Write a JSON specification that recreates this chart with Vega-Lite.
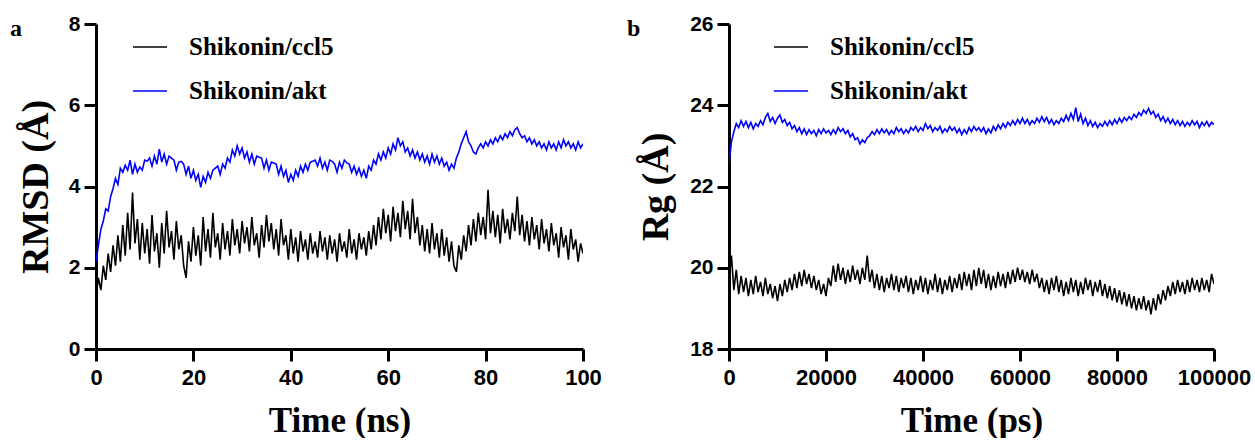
{
"$schema": "https://vega.github.io/schema/vega-lite/v6.json",
"background": "white",
"padding": {"left": 10, "top": 13, "right": 0, "bottom": 0},
"spacing": 146,
"bounds": "flush",
"resolve": {"scale": {"color": "independent"}, "legend": {"color": "independent"}},
"config": {
  "view": {"stroke": null},
  "axis": {"domainColor": "black", "domainWidth": 3, "tickColor": "black", "tickWidth": 3, "tickSize": 12, "grid": false,
    "labelFont": "Liberation Sans", "labelFontWeight": "bold", "labelColor": "black", "labelFlush": false, "labelOverlap": false,
    "titleFont": "Liberation Serif", "titleFontWeight": "bold", "titleColor": "black"},
  "axisX": {"labelFontSize": 22, "labelPadding": 6, "titleFontSize": 35, "titlePadding": 15},
  "axisY": {"labelFontSize": 21, "labelPadding": 4, "titleFontSize": 38, "titlePadding": 13},
  "legend": {"orient": "none", "legendX": 36, "legendY": 5, "title": null, "symbolType": "stroke", "symbolSize": 1156, "symbolStrokeWidth": 1.5,
    "labelFont": "Liberation Serif", "labelFontSize": 25, "labelFontWeight": "bold", "labelColor": "black", "labelOffset": 21, "rowPadding": 13, "labelLimit": 400}
},
"datasets": {
"rmsd": [
{"t":0,"ccl5":1.30,"akt":2.15},{"t":0.5,"ccl5":1.75,"akt":2.55},{"t":1,"ccl5":1.45,"akt":2.95},{"t":1.5,"ccl5":2.05,"akt":3.15},{"t":2,"ccl5":1.70,"akt":3.45},{"t":2.5,"ccl5":2.35,"akt":3.40},{"t":3,"ccl5":1.90,"akt":3.75},{"t":3.5,"ccl5":2.55,"akt":3.95},{"t":4,"ccl5":2.05,"akt":4.20},{"t":4.5,"ccl5":2.80,"akt":4.05},
{"t":5,"ccl5":2.15,"akt":4.45},{"t":5.5,"ccl5":3.05,"akt":4.35},{"t":6,"ccl5":2.30,"akt":4.52},{"t":6.5,"ccl5":3.35,"akt":4.40},{"t":7,"ccl5":2.45,"akt":4.65},{"t":7.5,"ccl5":3.85,"akt":4.30},{"t":8,"ccl5":2.60,"akt":4.55},{"t":8.5,"ccl5":3.20,"akt":4.35},{"t":9,"ccl5":2.20,"akt":4.48},{"t":9.5,"ccl5":3.10,"akt":4.40},
{"t":10,"ccl5":2.35,"akt":4.65},{"t":10.5,"ccl5":2.95,"akt":4.62},{"t":11,"ccl5":2.10,"akt":4.70},{"t":11.5,"ccl5":3.30,"akt":4.50},{"t":12,"ccl5":2.40,"akt":4.75},{"t":12.5,"ccl5":2.85,"akt":4.55},{"t":13,"ccl5":2.00,"akt":4.92},{"t":13.5,"ccl5":3.10,"akt":4.60},{"t":14,"ccl5":2.35,"akt":4.80},{"t":14.5,"ccl5":3.40,"akt":4.55},
{"t":15,"ccl5":2.50,"akt":4.75},{"t":15.5,"ccl5":2.90,"akt":4.70},{"t":16,"ccl5":2.20,"akt":4.65},{"t":16.5,"ccl5":3.15,"akt":4.40},{"t":17,"ccl5":2.45,"akt":4.60},{"t":17.5,"ccl5":2.80,"akt":4.62},{"t":18,"ccl5":2.05,"akt":4.55},{"t":18.5,"ccl5":1.75,"akt":4.30},{"t":19,"ccl5":2.65,"akt":4.50},{"t":19.5,"ccl5":2.15,"akt":4.20},
{"t":20,"ccl5":3.00,"akt":4.40},{"t":20.5,"ccl5":2.30,"akt":4.15},{"t":21,"ccl5":2.80,"akt":4.30},{"t":21.5,"ccl5":2.05,"akt":3.98},{"t":22,"ccl5":3.25,"akt":4.25},{"t":22.5,"ccl5":2.40,"akt":4.10},{"t":23,"ccl5":2.95,"akt":4.35},{"t":23.5,"ccl5":2.25,"akt":4.20},{"t":24,"ccl5":3.35,"akt":4.40},{"t":24.5,"ccl5":2.50,"akt":4.45},
{"t":25,"ccl5":2.85,"akt":4.50},{"t":25.5,"ccl5":2.20,"akt":4.30},{"t":26,"ccl5":3.10,"akt":4.55},{"t":26.5,"ccl5":2.45,"akt":4.45},{"t":27,"ccl5":2.90,"akt":4.70},{"t":27.5,"ccl5":2.30,"akt":4.60},{"t":28,"ccl5":3.20,"akt":4.90},{"t":28.5,"ccl5":2.55,"akt":4.75},{"t":29,"ccl5":2.95,"akt":5.00},{"t":29.5,"ccl5":2.35,"akt":4.80},
{"t":30,"ccl5":3.15,"akt":4.95},{"t":30.5,"ccl5":2.60,"akt":4.70},{"t":31,"ccl5":3.00,"akt":4.85},{"t":31.5,"ccl5":2.40,"akt":4.60},{"t":32,"ccl5":3.25,"akt":4.80},{"t":32.5,"ccl5":2.55,"akt":4.55},{"t":33,"ccl5":2.85,"akt":4.75},{"t":33.5,"ccl5":2.25,"akt":4.72},{"t":34,"ccl5":3.05,"akt":4.70},{"t":34.5,"ccl5":2.50,"akt":4.45},
{"t":35,"ccl5":3.30,"akt":4.65},{"t":35.5,"ccl5":2.65,"akt":4.40},{"t":36,"ccl5":3.10,"akt":4.60},{"t":36.5,"ccl5":2.45,"akt":4.58},{"t":37,"ccl5":2.95,"akt":4.55},{"t":37.5,"ccl5":2.30,"akt":4.30},{"t":38,"ccl5":3.20,"akt":4.50},{"t":38.5,"ccl5":2.55,"akt":4.25},{"t":39,"ccl5":2.80,"akt":4.40},{"t":39.5,"ccl5":2.20,"akt":4.10},
{"t":40,"ccl5":2.95,"akt":4.30},{"t":40.5,"ccl5":2.35,"akt":4.15},{"t":41,"ccl5":2.75,"akt":4.40},{"t":41.5,"ccl5":2.15,"akt":4.25},{"t":42,"ccl5":2.90,"akt":4.50},{"t":42.5,"ccl5":2.40,"akt":4.35},{"t":43,"ccl5":2.70,"akt":4.55},{"t":43.5,"ccl5":2.20,"akt":4.40},{"t":44,"ccl5":2.85,"akt":4.60},{"t":44.5,"ccl5":2.35,"akt":4.62},
{"t":45,"ccl5":2.65,"akt":4.65},{"t":45.5,"ccl5":2.25,"akt":4.50},{"t":46,"ccl5":2.90,"akt":4.70},{"t":46.5,"ccl5":2.40,"akt":4.45},{"t":47,"ccl5":2.75,"akt":4.60},{"t":47.5,"ccl5":2.20,"akt":4.40},{"t":48,"ccl5":2.80,"akt":4.65},{"t":48.5,"ccl5":2.35,"akt":4.62},{"t":49,"ccl5":2.70,"akt":4.55},{"t":49.5,"ccl5":2.15,"akt":4.35},
{"t":50,"ccl5":2.85,"akt":4.60},{"t":50.5,"ccl5":2.40,"akt":4.45},{"t":51,"ccl5":2.65,"akt":4.65},{"t":51.5,"ccl5":2.25,"akt":4.58},{"t":52,"ccl5":2.95,"akt":4.55},{"t":52.5,"ccl5":2.35,"akt":4.35},{"t":53,"ccl5":2.70,"akt":4.50},{"t":53.5,"ccl5":2.20,"akt":4.30},{"t":54,"ccl5":2.85,"akt":4.45},{"t":54.5,"ccl5":2.45,"akt":4.25},
{"t":55,"ccl5":2.75,"akt":4.40},{"t":55.5,"ccl5":2.30,"akt":4.20},{"t":56,"ccl5":2.90,"akt":4.50},{"t":56.5,"ccl5":2.45,"akt":4.40},{"t":57,"ccl5":3.05,"akt":4.65},{"t":57.5,"ccl5":2.55,"akt":4.55},{"t":58,"ccl5":3.25,"akt":4.80},{"t":58.5,"ccl5":2.70,"akt":4.65},{"t":59,"ccl5":3.45,"akt":4.85},{"t":59.5,"ccl5":2.85,"akt":4.70},
{"t":60,"ccl5":3.30,"akt":4.95},{"t":60.5,"ccl5":2.65,"akt":4.80},{"t":61,"ccl5":3.50,"akt":5.05},{"t":61.5,"ccl5":2.90,"akt":4.90},{"t":62,"ccl5":3.35,"akt":5.20},{"t":62.5,"ccl5":2.75,"akt":5.00},{"t":63,"ccl5":3.65,"akt":5.10},{"t":63.5,"ccl5":2.95,"akt":4.85},{"t":64,"ccl5":3.40,"akt":4.95},{"t":64.5,"ccl5":2.70,"akt":4.75},
{"t":65,"ccl5":3.70,"akt":4.90},{"t":65.5,"ccl5":2.85,"akt":4.70},{"t":66,"ccl5":3.25,"akt":4.85},{"t":66.5,"ccl5":2.55,"akt":4.65},{"t":67,"ccl5":3.05,"akt":4.80},{"t":67.5,"ccl5":2.40,"akt":4.60},{"t":68,"ccl5":2.95,"akt":4.75},{"t":68.5,"ccl5":2.35,"akt":4.55},{"t":69,"ccl5":3.10,"akt":4.80},{"t":69.5,"ccl5":2.45,"akt":4.60},
{"t":70,"ccl5":2.85,"akt":4.75},{"t":70.5,"ccl5":2.25,"akt":4.55},{"t":71,"ccl5":2.95,"akt":4.70},{"t":71.5,"ccl5":2.30,"akt":4.50},{"t":72,"ccl5":2.75,"akt":4.60},{"t":72.5,"ccl5":2.15,"akt":4.40},{"t":73,"ccl5":2.65,"akt":4.55},{"t":73.5,"ccl5":2.05,"akt":4.45},{"t":74,"ccl5":1.90,"akt":4.70},{"t":74.5,"ccl5":2.55,"akt":4.85},
{"t":75,"ccl5":2.20,"akt":5.05},{"t":75.5,"ccl5":2.80,"akt":5.20},{"t":76,"ccl5":2.40,"akt":5.35},{"t":76.5,"ccl5":3.05,"akt":5.10},{"t":77,"ccl5":2.55,"akt":5.00},{"t":77.5,"ccl5":3.20,"akt":4.85},{"t":78,"ccl5":2.65,"akt":4.80},{"t":78.5,"ccl5":3.35,"akt":4.95},{"t":79,"ccl5":2.80,"akt":5.05},{"t":79.5,"ccl5":3.25,"akt":4.95},
{"t":80,"ccl5":2.70,"akt":5.10},{"t":80.5,"ccl5":3.92,"akt":5.00},{"t":81,"ccl5":2.85,"akt":5.15},{"t":81.5,"ccl5":3.40,"akt":5.05},{"t":82,"ccl5":2.75,"akt":5.20},{"t":82.5,"ccl5":3.30,"akt":5.10},{"t":83,"ccl5":2.60,"akt":5.25},{"t":83.5,"ccl5":3.45,"akt":5.15},{"t":84,"ccl5":2.85,"akt":5.30},{"t":84.5,"ccl5":3.20,"akt":5.20},
{"t":85,"ccl5":2.70,"akt":5.35},{"t":85.5,"ccl5":3.35,"akt":5.25},{"t":86,"ccl5":2.90,"akt":5.40},{"t":86.5,"ccl5":3.75,"akt":5.45},{"t":87,"ccl5":2.80,"akt":5.30},{"t":87.5,"ccl5":3.30,"akt":5.20},{"t":88,"ccl5":2.65,"akt":5.25},{"t":88.5,"ccl5":3.15,"akt":5.10},{"t":89,"ccl5":2.55,"akt":5.20},{"t":89.5,"ccl5":3.25,"akt":5.05},
{"t":90,"ccl5":2.70,"akt":5.15},{"t":90.5,"ccl5":3.05,"akt":5.00},{"t":91,"ccl5":2.45,"akt":5.10},{"t":91.5,"ccl5":3.20,"akt":4.95},{"t":92,"ccl5":2.60,"akt":5.05},{"t":92.5,"ccl5":2.95,"akt":4.90},{"t":93,"ccl5":2.40,"akt":5.10},{"t":93.5,"ccl5":3.10,"akt":4.95},{"t":94,"ccl5":2.55,"akt":5.05},{"t":94.5,"ccl5":2.85,"akt":4.90},
{"t":95,"ccl5":2.25,"akt":5.10},{"t":95.5,"ccl5":3.00,"akt":4.95},{"t":96,"ccl5":2.50,"akt":5.15},{"t":96.5,"ccl5":2.80,"akt":5.00},{"t":97,"ccl5":2.20,"akt":5.10},{"t":97.5,"ccl5":2.95,"akt":4.95},{"t":98,"ccl5":2.45,"akt":5.05},{"t":98.5,"ccl5":2.70,"akt":4.90},{"t":99,"ccl5":2.15,"akt":5.10},{"t":99.5,"ccl5":2.60,"akt":4.95},
{"t":100,"ccl5":2.35,"akt":5.05}
],
"rg": [
{"t":0,"ccl5":19.70,"akt":22.55},{"t":500,"ccl5":20.30,"akt":23.10},{"t":1000,"ccl5":19.45,"akt":23.35},{"t":1500,"ccl5":19.95,"akt":23.55},{"t":2000,"ccl5":19.35,"akt":23.45},{"t":2500,"ccl5":19.80,"akt":23.62},{"t":3000,"ccl5":19.40,"akt":23.48},{"t":3500,"ccl5":19.75,"akt":23.60},{"t":4000,"ccl5":19.30,"akt":23.45},{"t":4500,"ccl5":19.70,"akt":23.58},
{"t":5000,"ccl5":19.35,"akt":23.42},{"t":5500,"ccl5":19.80,"akt":23.55},{"t":6000,"ccl5":19.40,"akt":23.48},{"t":6500,"ccl5":19.65,"akt":23.62},{"t":7000,"ccl5":19.30,"akt":23.52},{"t":7500,"ccl5":19.75,"akt":23.70},{"t":8000,"ccl5":19.35,"akt":23.80},{"t":8500,"ccl5":19.60,"akt":23.60},{"t":9000,"ccl5":19.25,"akt":23.70},{"t":9500,"ccl5":19.55,"akt":23.55},
{"t":10000,"ccl5":19.18,"akt":23.68},{"t":10500,"ccl5":19.60,"akt":23.76},{"t":11000,"ccl5":19.30,"akt":23.58},{"t":11500,"ccl5":19.70,"akt":23.65},{"t":12000,"ccl5":19.40,"akt":23.50},{"t":12500,"ccl5":19.75,"akt":23.58},{"t":13000,"ccl5":19.45,"akt":23.42},{"t":13500,"ccl5":19.85,"akt":23.50},{"t":14000,"ccl5":19.50,"akt":23.35},{"t":14500,"ccl5":19.90,"akt":23.45},
{"t":15000,"ccl5":19.55,"akt":23.30},{"t":15500,"ccl5":19.95,"akt":23.42},{"t":16000,"ccl5":19.60,"akt":23.28},{"t":16500,"ccl5":19.85,"akt":23.40},{"t":17000,"ccl5":19.50,"akt":23.30},{"t":17500,"ccl5":19.80,"akt":23.38},{"t":18000,"ccl5":19.45,"akt":23.25},{"t":18500,"ccl5":19.70,"akt":23.40},{"t":19000,"ccl5":19.35,"akt":23.30},{"t":19500,"ccl5":19.60,"akt":23.42},
{"t":20000,"ccl5":19.30,"akt":23.32},{"t":20500,"ccl5":19.75,"akt":23.38},{"t":21000,"ccl5":19.55,"akt":23.28},{"t":21500,"ccl5":20.05,"akt":23.40},{"t":22000,"ccl5":19.65,"akt":23.30},{"t":22500,"ccl5":20.10,"akt":23.45},{"t":23000,"ccl5":19.70,"akt":23.35},{"t":23500,"ccl5":20.00,"akt":23.42},{"t":24000,"ccl5":19.60,"akt":23.30},{"t":24500,"ccl5":19.95,"akt":23.38},
{"t":25000,"ccl5":19.65,"akt":23.22},{"t":25500,"ccl5":20.05,"akt":23.30},{"t":26000,"ccl5":19.70,"akt":23.15},{"t":26500,"ccl5":19.95,"akt":23.20},{"t":27000,"ccl5":19.60,"akt":23.05},{"t":27500,"ccl5":20.00,"akt":23.15},{"t":28000,"ccl5":19.70,"akt":23.08},{"t":28500,"ccl5":20.30,"akt":23.20},{"t":29000,"ccl5":19.65,"akt":23.25},{"t":29500,"ccl5":19.95,"akt":23.35},
{"t":30000,"ccl5":19.50,"akt":23.28},{"t":30500,"ccl5":19.85,"akt":23.40},{"t":31000,"ccl5":19.45,"akt":23.30},{"t":31500,"ccl5":19.80,"akt":23.42},{"t":32000,"ccl5":19.40,"akt":23.32},{"t":32500,"ccl5":19.75,"akt":23.40},{"t":33000,"ccl5":19.50,"akt":23.28},{"t":33500,"ccl5":19.85,"akt":23.38},{"t":34000,"ccl5":19.45,"akt":23.30},{"t":34500,"ccl5":19.80,"akt":23.45},
{"t":35000,"ccl5":19.40,"akt":23.35},{"t":35500,"ccl5":19.75,"akt":23.42},{"t":36000,"ccl5":19.50,"akt":23.30},{"t":36500,"ccl5":19.80,"akt":23.40},{"t":37000,"ccl5":19.40,"akt":23.32},{"t":37500,"ccl5":19.75,"akt":23.45},{"t":38000,"ccl5":19.35,"akt":23.38},{"t":38500,"ccl5":19.70,"akt":23.48},{"t":39000,"ccl5":19.45,"akt":23.35},{"t":39500,"ccl5":19.80,"akt":23.45},
{"t":40000,"ccl5":19.40,"akt":23.38},{"t":40500,"ccl5":19.75,"akt":23.55},{"t":41000,"ccl5":19.35,"akt":23.42},{"t":41500,"ccl5":19.70,"akt":23.50},{"t":42000,"ccl5":19.45,"akt":23.35},{"t":42500,"ccl5":19.85,"akt":23.45},{"t":43000,"ccl5":19.40,"akt":23.38},{"t":43500,"ccl5":19.75,"akt":23.48},{"t":44000,"ccl5":19.35,"akt":23.32},{"t":44500,"ccl5":19.70,"akt":23.42},
{"t":45000,"ccl5":19.45,"akt":23.35},{"t":45500,"ccl5":19.80,"akt":23.48},{"t":46000,"ccl5":19.40,"akt":23.38},{"t":46500,"ccl5":19.75,"akt":23.45},{"t":47000,"ccl5":19.50,"akt":23.32},{"t":47500,"ccl5":19.85,"akt":23.42},{"t":48000,"ccl5":19.45,"akt":23.28},{"t":48500,"ccl5":19.90,"akt":23.40},{"t":49000,"ccl5":19.55,"akt":23.30},{"t":49500,"ccl5":19.85,"akt":23.45},
{"t":50000,"ccl5":19.45,"akt":23.35},{"t":50500,"ccl5":19.95,"akt":23.48},{"t":51000,"ccl5":19.55,"akt":23.38},{"t":51500,"ccl5":20.00,"akt":23.45},{"t":52000,"ccl5":19.60,"akt":23.35},{"t":52500,"ccl5":19.95,"akt":23.45},{"t":53000,"ccl5":19.50,"akt":23.30},{"t":53500,"ccl5":19.85,"akt":23.42},{"t":54000,"ccl5":19.45,"akt":23.32},{"t":54500,"ccl5":19.80,"akt":23.48},
{"t":55000,"ccl5":19.50,"akt":23.38},{"t":55500,"ccl5":19.90,"akt":23.52},{"t":56000,"ccl5":19.55,"akt":23.42},{"t":56500,"ccl5":19.85,"akt":23.55},{"t":57000,"ccl5":19.50,"akt":23.45},{"t":57500,"ccl5":19.90,"akt":23.58},{"t":58000,"ccl5":19.60,"akt":23.50},{"t":58500,"ccl5":19.95,"akt":23.62},{"t":59000,"ccl5":19.65,"akt":23.52},{"t":59500,"ccl5":20.00,"akt":23.65},
{"t":60000,"ccl5":19.70,"akt":23.55},{"t":60500,"ccl5":19.95,"akt":23.68},{"t":61000,"ccl5":19.65,"akt":23.55},{"t":61500,"ccl5":19.90,"akt":23.65},{"t":62000,"ccl5":19.60,"akt":23.52},{"t":62500,"ccl5":19.95,"akt":23.62},{"t":63000,"ccl5":19.65,"akt":23.55},{"t":63500,"ccl5":19.85,"akt":23.68},{"t":64000,"ccl5":19.50,"akt":23.58},{"t":64500,"ccl5":19.75,"akt":23.72},
{"t":65000,"ccl5":19.40,"akt":23.60},{"t":65500,"ccl5":19.70,"akt":23.70},{"t":66000,"ccl5":19.35,"akt":23.55},{"t":66500,"ccl5":19.75,"akt":23.65},{"t":67000,"ccl5":19.45,"akt":23.52},{"t":67500,"ccl5":19.80,"akt":23.62},{"t":68000,"ccl5":19.40,"akt":23.55},{"t":68500,"ccl5":19.70,"akt":23.68},{"t":69000,"ccl5":19.30,"akt":23.60},{"t":69500,"ccl5":19.65,"akt":23.75},
{"t":70000,"ccl5":19.35,"akt":23.62},{"t":70500,"ccl5":19.75,"akt":23.80},{"t":71000,"ccl5":19.40,"akt":23.65},{"t":71500,"ccl5":19.70,"akt":23.94},{"t":72000,"ccl5":19.30,"akt":23.60},{"t":72500,"ccl5":19.65,"akt":23.78},{"t":73000,"ccl5":19.35,"akt":23.55},{"t":73500,"ccl5":19.75,"akt":23.68},{"t":74000,"ccl5":19.45,"akt":23.50},{"t":74500,"ccl5":19.70,"akt":23.62},
{"t":75000,"ccl5":19.30,"akt":23.48},{"t":75500,"ccl5":19.65,"akt":23.58},{"t":76000,"ccl5":19.40,"akt":23.45},{"t":76500,"ccl5":19.70,"akt":23.55},{"t":77000,"ccl5":19.30,"akt":23.48},{"t":77500,"ccl5":19.60,"akt":23.60},{"t":78000,"ccl5":19.25,"akt":23.50},{"t":78500,"ccl5":19.55,"akt":23.62},{"t":79000,"ccl5":19.20,"akt":23.52},{"t":79500,"ccl5":19.50,"akt":23.65},
{"t":80000,"ccl5":19.15,"akt":23.55},{"t":80500,"ccl5":19.45,"akt":23.68},{"t":81000,"ccl5":19.10,"akt":23.58},{"t":81500,"ccl5":19.40,"akt":23.70},{"t":82000,"ccl5":19.05,"akt":23.62},{"t":82500,"ccl5":19.35,"akt":23.72},{"t":83000,"ccl5":19.00,"akt":23.65},{"t":83500,"ccl5":19.30,"akt":23.78},{"t":84000,"ccl5":18.95,"akt":23.70},{"t":84500,"ccl5":19.25,"akt":23.82},
{"t":85000,"ccl5":18.98,"akt":23.75},{"t":85500,"ccl5":19.30,"akt":23.88},{"t":86000,"ccl5":18.95,"akt":23.80},{"t":86500,"ccl5":19.20,"akt":23.92},{"t":87000,"ccl5":18.85,"akt":23.78},{"t":87500,"ccl5":19.25,"akt":23.85},{"t":88000,"ccl5":18.95,"akt":23.70},{"t":88500,"ccl5":19.35,"akt":23.78},{"t":89000,"ccl5":19.10,"akt":23.62},{"t":89500,"ccl5":19.45,"akt":23.72},
{"t":90000,"ccl5":19.20,"akt":23.58},{"t":90500,"ccl5":19.55,"akt":23.68},{"t":91000,"ccl5":19.30,"akt":23.55},{"t":91500,"ccl5":19.65,"akt":23.65},{"t":92000,"ccl5":19.35,"akt":23.52},{"t":92500,"ccl5":19.70,"akt":23.62},{"t":93000,"ccl5":19.40,"akt":23.50},{"t":93500,"ccl5":19.65,"akt":23.60},{"t":94000,"ccl5":19.35,"akt":23.48},{"t":94500,"ccl5":19.70,"akt":23.58},
{"t":95000,"ccl5":19.40,"akt":23.50},{"t":95500,"ccl5":19.75,"akt":23.62},{"t":96000,"ccl5":19.45,"akt":23.52},{"t":96500,"ccl5":19.70,"akt":23.60},{"t":97000,"ccl5":19.40,"akt":23.45},{"t":97500,"ccl5":19.75,"akt":23.58},{"t":98000,"ccl5":19.45,"akt":23.50},{"t":98500,"ccl5":19.70,"akt":23.60},{"t":99000,"ccl5":19.40,"akt":23.48},{"t":99500,"ccl5":19.85,"akt":23.58},
{"t":100000,"ccl5":19.60,"akt":23.52}
]
},
"hconcat": [
{
  "width": 487, "height": 325,
  "title": {"text": "a", "anchor": "start", "frame": "group", "dx": -86, "offset": -28, "font": "Liberation Serif", "fontSize": 24, "fontWeight": "bold", "color": "black"},
  "data": {"name": "rmsd"},
  "transform": [{"fold": ["ccl5", "akt"], "as": ["series", "value"]}],
  "mark": {"type": "line", "strokeWidth": 1.6, "clip": true},
  "encoding": {
    "x": {"field": "t", "type": "quantitative", "scale": {"domain": [0, 100], "nice": false}, "axis": {"values": [0, 20, 40, 60, 80, 100], "title": "Time (ns)", "domainWidth": 3, "tickWidth": 3, "tickSize": 12}},
    "y": {"field": "value", "type": "quantitative", "scale": {"domain": [0, 8], "nice": false}, "axis": {"values": [0, 2, 4, 6, 8], "title": "RMSD (Å)", "domainWidth": 3, "tickWidth": 3, "tickSize": 12}},
    "color": {"field": "series", "type": "nominal", "sort": ["ccl5", "akt"], "scale": {"domain": ["ccl5", "akt"], "range": ["#000000", "#0000FF"]}, "legend": {"labelExpr": "'Shikonin/' + datum.label"}}
  }
},
{
  "width": 485, "height": 325,
  "title": {"text": "b", "anchor": "start", "frame": "group", "dx": -102, "offset": -28, "font": "Liberation Serif", "fontSize": 24, "fontWeight": "bold", "color": "black"},
  "data": {"name": "rg"},
  "transform": [{"fold": ["ccl5", "akt"], "as": ["series", "value"]}],
  "mark": {"type": "line", "strokeWidth": 1.6, "clip": true},
  "encoding": {
    "x": {"field": "t", "type": "quantitative", "scale": {"domain": [0, 100000], "nice": false}, "axis": {"values": [0, 20000, 40000, 60000, 80000, 100000], "format": "d", "title": "Time (ps)", "domainWidth": 3, "tickWidth": 3, "tickSize": 12}},
    "y": {"field": "value", "type": "quantitative", "scale": {"domain": [18, 26], "nice": false, "zero": false}, "axis": {"values": [18, 20, 22, 24, 26], "title": "Rg (Å)", "titlePadding": 14, "domainWidth": 3, "tickWidth": 3, "tickSize": 12}},
    "color": {"field": "series", "type": "nominal", "sort": ["ccl5", "akt"], "scale": {"domain": ["ccl5", "akt"], "range": ["#000000", "#0000FF"]}, "legend": {"labelExpr": "'Shikonin/' + datum.label", "legendX": 44}}
  }
}
]
}
